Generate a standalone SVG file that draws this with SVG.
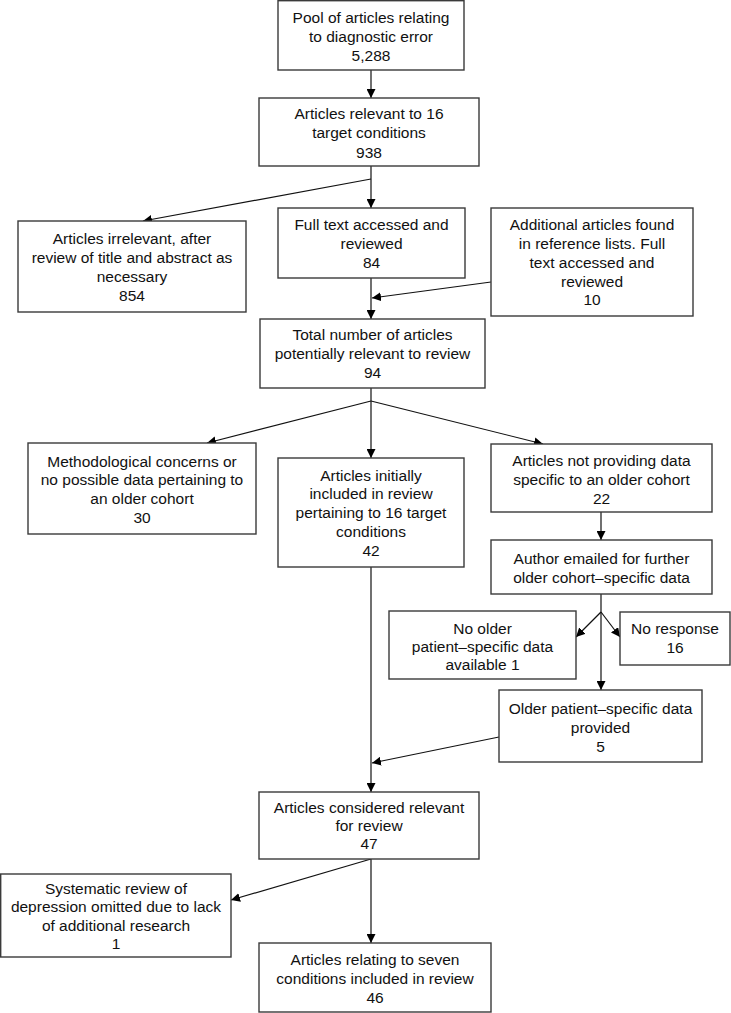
<svg xmlns="http://www.w3.org/2000/svg" width="731" height="1013" viewBox="0 0 731 1013">
<defs>
<marker id="ah" markerUnits="userSpaceOnUse" markerWidth="10" markerHeight="9" refX="9" refY="4.5" orient="auto">
<path d="M0,0 L9,4.5 L0,9 z" fill="#000"/>
</marker>
<style>
.box{fill:#fff;stroke:#3a3a3a;stroke-width:1.4}
.t{font-family:"Liberation Sans",Arial,sans-serif;font-size:15.5px;fill:#111;text-anchor:middle}
.c{fill:none;stroke:#111;stroke-width:1.2;marker-end:url(#ah)}
</style>
</defs>
<rect width="731" height="1013" fill="#fff"/>
<g id="connectors">
<line class="c" x1="371" y1="70" x2="371" y2="98"/>
<line class="c" x1="371" y1="166" x2="371" y2="208"/>
<line class="c" x1="371" y1="179" x2="143" y2="221"/>
<line class="c" x1="371" y1="278" x2="371" y2="319"/>
<line class="c" x1="491" y1="282" x2="372" y2="298"/>
<line class="c" x1="371" y1="388" x2="371" y2="458"/>
<line class="c" x1="371" y1="401" x2="207" y2="443"/>
<line class="c" x1="371" y1="401" x2="543" y2="444"/>
<line class="c" x1="601" y1="512" x2="601" y2="540"/>
<line class="c" x1="601" y1="594" x2="601" y2="690"/>
<line class="c" x1="601" y1="612" x2="576" y2="637"/>
<line class="c" x1="601" y1="612" x2="620" y2="637"/>
<line class="c" x1="371" y1="567" x2="371" y2="792"/>
<line class="c" x1="499" y1="737" x2="372" y2="763"/>
<line class="c" x1="371" y1="859" x2="371" y2="943"/>
<line class="c" x1="371" y1="859" x2="231" y2="900"/>
</g>
<g id="n1"><rect class="box" x="278" y="0.7" width="186" height="69.3"/>
<text class="t" x="371" y="22.5">Pool of articles relating</text><text class="t" x="371" y="41.5">to diagnostic error</text><text class="t" x="371" y="60.5">5,288</text></g>
<g id="n2"><rect class="box" x="259" y="98" width="220" height="68"/>
<text class="t" x="369" y="118.5">Articles relevant to 16</text><text class="t" x="369" y="137.5">target conditions</text><text class="t" x="369" y="157.5">938</text></g>
<g id="n3"><rect class="box" x="18" y="221" width="228" height="91"/>
<text class="t" x="132" y="243.5">Articles irrelevant, after</text><text class="t" x="132" y="262.5">review of title and abstract as</text><text class="t" x="132" y="281.5">necessary</text><text class="t" x="132" y="300.5">854</text></g>
<g id="n4"><rect class="box" x="278" y="208" width="187" height="70"/>
<text class="t" x="371.5" y="229.5">Full text accessed and</text><text class="t" x="371.5" y="248.5">reviewed</text><text class="t" x="371.5" y="267.5">84</text></g>
<g id="n5"><rect class="box" x="491" y="208" width="202" height="108"/>
<text class="t" x="592" y="229.5">Additional articles found</text><text class="t" x="592" y="248.5">in reference lists. Full</text><text class="t" x="592" y="267.5">text accessed and</text><text class="t" x="592" y="286.5">reviewed</text><text class="t" x="592" y="305">10</text></g>
<g id="n6"><rect class="box" x="260" y="319" width="225" height="69"/>
<text class="t" x="372.5" y="339.5">Total number of articles</text><text class="t" x="372.5" y="358.5">potentially relevant to review</text><text class="t" x="372.5" y="377.5">94</text></g>
<g id="n7"><rect class="box" x="28" y="443" width="228" height="91"/>
<text class="t" x="142" y="466.5">Methodological concerns or</text><text class="t" x="142" y="485">no possible data pertaining to</text><text class="t" x="142" y="504">an older cohort</text><text class="t" x="142" y="522.5">30</text></g>
<g id="n8"><rect class="box" x="278" y="458" width="186" height="109"/>
<text class="t" x="371" y="480.5">Articles initially</text><text class="t" x="371" y="499">included in review</text><text class="t" x="371" y="518">pertaining to 16 target</text><text class="t" x="371" y="537">conditions</text><text class="t" x="371" y="555.5">42</text></g>
<g id="n9"><rect class="box" x="491" y="444" width="221" height="68"/>
<text class="t" x="601.5" y="465.5">Articles not providing data</text><text class="t" x="601.5" y="484.5">specific to an older cohort</text><text class="t" x="601.5" y="503.5">22</text></g>
<g id="n10"><rect class="box" x="491" y="540" width="221" height="54"/>
<text class="t" x="601.5" y="563.5">Author emailed for further</text><text class="t" x="601.5" y="583">older cohort–specific data</text></g>
<g id="n11"><rect class="box" x="389" y="611" width="187" height="68"/>
<text class="t" x="482.5" y="633.5">No older</text><text class="t" x="482.5" y="651.5">patient–specific data</text><text class="t" x="482.5" y="669.5">available 1</text></g>
<g id="n12"><rect class="box" x="620" y="612" width="110" height="53"/>
<text class="t" x="675" y="633.5">No response</text><text class="t" x="675" y="652.5">16</text></g>
<g id="n13"><rect class="box" x="499" y="690" width="203" height="72"/>
<text class="t" x="600.5" y="713.5">Older patient–specific data</text><text class="t" x="600.5" y="732.5">provided</text><text class="t" x="600.5" y="751.5">5</text></g>
<g id="n14"><rect class="box" x="259" y="792" width="220" height="67"/>
<text class="t" x="369" y="812.5">Articles considered relevant</text><text class="t" x="369" y="830.5">for review</text><text class="t" x="369" y="849">47</text></g>
<g id="n15"><rect class="box" x="0.7" y="874" width="230.3" height="83"/>
<text class="t" x="116" y="893.5">Systematic review of</text><text class="t" x="116" y="912">depression omitted due to lack</text><text class="t" x="116" y="931">of additional research</text><text class="t" x="116" y="949">1</text></g>
<g id="n16"><rect class="box" x="259" y="943" width="232" height="69"/>
<text class="t" x="375" y="964.5">Articles relating to seven</text><text class="t" x="375" y="983.5">conditions included in review</text><text class="t" x="375" y="1002.5">46</text></g>
</svg>
